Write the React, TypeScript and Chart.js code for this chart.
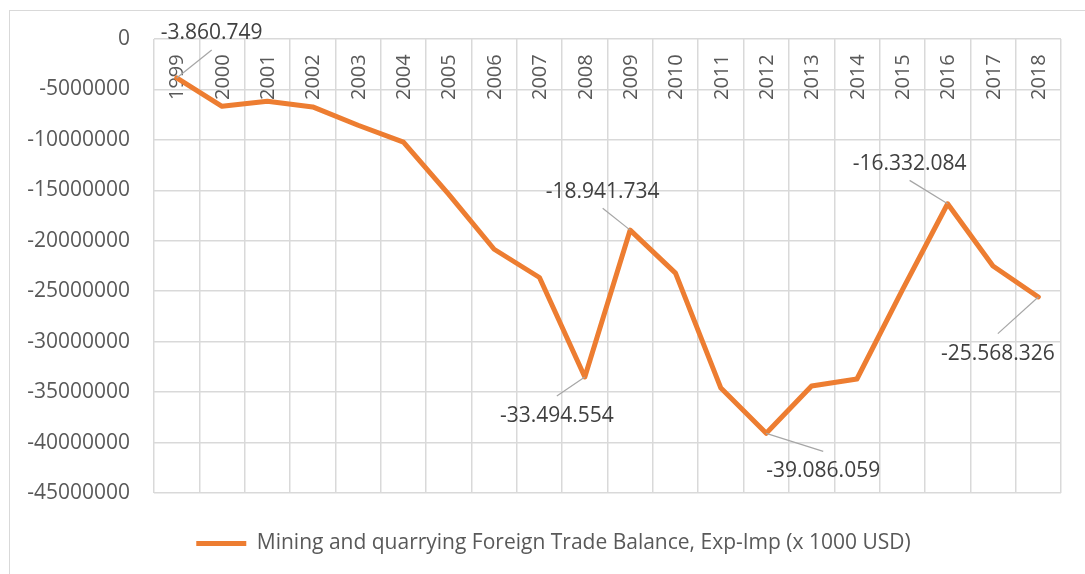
import React, { useEffect, useRef } from 'react';
import { Chart, registerables } from 'chart.js';

Chart.register(...registerables);

// ---- data ----
const years = ['1999', '2000', '2001', '2002', '2003', '2004', '2005', '2006', '2007', '2008', '2009', '2010', '2011', '2012', '2013', '2014', '2015', '2016', '2017', '2018'];
const balance = [-3860749, -6670000, -6170000, -6730000, -8550000, -10230000, -15400000, -20840000, -23640000, -33494554, -18941734, -23200000, -34600000, -39086059, -34400000, -33700000, -24900000, -16332084, -22500000, -25568326];
const seriesName = 'Mining and quarrying Foreign Trade Balance, Exp-Imp (x 1000 USD)';
const yMin = -45000000;
const yMax = 0;
const yStep = 5000000;
const labeledYears = ['1999', '2008', '2009', '2012', '2016', '2018'];
// label placement (px offsets from point), style only
const labelOffsets = [[35, -44.6], [-28, 39], [-27.5, -38.5], [57, 38], [-38, -40], [-40.5, 56.7]];

const FONT = '"Open Sans", "Liberation Sans", sans-serif';
const TEXT = '#595959';
const GRID = '#d9d9d9';
const LINE = '#ED7D31';

const fmt = (v: number) => {
  const s = Math.abs(Math.round(v)).toString().replace(/\B(?=(\d{3})+(?!\d))/g, '.');
  return (v < 0 ? '-' : '') + s;
};

const overlay = {
  id: 'overlay',
  afterLayout(chart: any) {
    if (chart.legend) {
      chart.legend.left = 46;
    }
  },
  beforeDraw(chart: any) {
    const { ctx, width, height } = chart;
    ctx.save();
    ctx.fillStyle = '#ffffff';
    ctx.fillRect(0, 0, width, height);
    ctx.strokeStyle = GRID;
    ctx.lineWidth = 1;
    ctx.strokeRect(9.5, 10.5, width + 20, height + 20);
    ctx.restore();
  },
  beforeDatasetsDraw(chart: any) {
    const { ctx, chartArea } = chart;
    const xs = chart.scales.x;
    ctx.save();
    ctx.font = `20px ${FONT}`;
    ctx.fillStyle = TEXT;
    ctx.textAlign = 'left';
    ctx.textBaseline = 'middle';
    years.forEach((y, i) => {
      const px = xs.getPixelForValue(i);
      ctx.save();
      ctx.translate(px, chartArea.top + 61);
      ctx.rotate(-Math.PI / 2);
      ctx.fillText(y, 0, 1);
      ctx.restore();
    });
    ctx.restore();
  },
  afterDatasetsDraw(chart: any) {
    const { ctx } = chart;
    const xs = chart.scales.x;
    const ys = chart.scales.y;
    ctx.save();
    ctx.font = `21px ${FONT}`;
    ctx.textAlign = 'center';
    ctx.textBaseline = 'middle';
    labeledYears.forEach((yr, k) => {
      const i = years.indexOf(yr);
      const v = balance[i];
      const px = xs.getPixelForValue(i);
      const py = ys.getPixelForValue(v);
      const [dx, dy] = labelOffsets[k];
      const cx = px + dx;
      const cy = py + dy;
      const ey = dy < 0 ? cy + 16.6 : cy - 20;
      ctx.strokeStyle = '#a6a6a6';
      ctx.lineWidth = 1.2;
      ctx.beginPath();
      ctx.moveTo(px, py);
      ctx.lineTo(cx, ey);
      ctx.stroke();
      ctx.fillStyle = '#404040';
      ctx.fillText(fmt(v), cx, cy);
    });
    ctx.restore();
  },
};

export default function App() {
  const ref = useRef<HTMLCanvasElement | null>(null);
  useEffect(() => {
    document.body.style.margin = '0';
    const canvas = ref.current;
    if (!canvas) return;
    const chart = new Chart(canvas, {
      type: 'line',
      data: {
        labels: years,
        datasets: [
          {
            label: seriesName,
            data: balance,
            borderColor: LINE,
            backgroundColor: LINE,
            borderWidth: 5,
            pointRadius: 0,
            pointHoverRadius: 0,
            tension: 0,
            borderJoinStyle: 'round',
            borderCapStyle: 'round',
            fill: false,
          },
        ],
      },
      options: {
        animation: false,
        responsive: false,
        devicePixelRatio: 1,
        events: [],
        layout: { padding: { top: 39, left: 0, right: 24, bottom: 10 } },
        scales: {
          x: {
            type: 'category',
            position: 'bottom',
            offset: true,
            grid: { offset: true, color: GRID, lineWidth: 1.5, drawTicks: false },
            border: { display: false },
            ticks: { display: false },
          },
          y: {
            min: yMin,
            max: yMax,
            ticks: {
              stepSize: yStep,
              color: TEXT,
              font: { family: FONT, size: 21 },
              padding: 24,
              callback: (v: any) => String(v),
            },
            grid: { color: GRID, lineWidth: 1.5, drawTicks: false },
            border: { display: false },
            afterFit: (scale: any) => {
              scale.width = 154;
            },
          },
        },
        plugins: {
          tooltip: { enabled: false },
          legend: {
            position: 'bottom',
            labels: {
              usePointStyle: true,
              pointStyle: 'line',
              pointStyleWidth: 50,
              padding: 40,
              color: TEXT,
              font: { family: FONT, size: 21 },
            },
          },
        },
      },
      plugins: [overlay],
    });
    return () => chart.destroy();
  }, []);
  return (
    <div style={{ width: 1085, height: 574 }}>
      <canvas ref={ref} width={1085} height={574} style={{ display: 'block', width: 1085, height: 574 }} />
    </div>
  );
}
